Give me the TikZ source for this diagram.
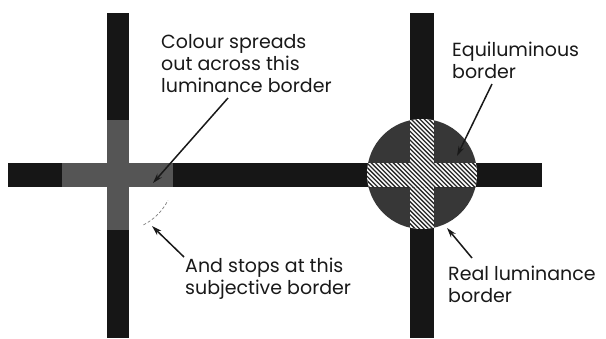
\documentclass[tikz,border=0pt]{standalone}
\usepackage{fontspec}
\setmainfont{Poppins}
\usetikzlibrary{arrows.meta}
\definecolor{barc}{RGB}{22,22,22}
\definecolor{spreadc}{RGB}{85,85,85}
\definecolor{circc}{RGB}{55,55,55}
\definecolor{hatchc}{RGB}{40,40,40}
\begin{document}
\begin{tikzpicture}[x=1pt,y=-1pt,
  lbl/.style={align=left, anchor=base west, inner sep=0pt, text=black!90,
    font=\fontsize{19}{22}\selectfont},
  arr/.style={-{Stealth[length=10pt,width=6pt]}, line width=1.5pt, black!90},
  hatch/.style={line width=1.3pt, hatchc}]
\useasboundingbox (0,0) rectangle (606,338);
\fill[white] (0,0) rectangle (606,338);
% bars
\fill[barc] (107,13) rectangle (129,338);
\fill[barc] (8,163) rectangle (542,187);
\fill[barc] (410,13) rectangle (434,338);
% colour spreading region
\fill[spreadc] (62,163) rectangle (173,187);
\fill[spreadc] (107,120) rectangle (129,230);
% subjective border
\draw[gray, line width=0.7pt, densely dashed] (118,175) ++(63:56) arc[start angle=63, end angle=27, radius=56];
% equiluminous disc
\fill[circc] (422,174) circle (55);
\begin{scope}
  \clip (422,174) circle (55);
  \begin{scope}
    \clip (410,110) rectangle (434,240);
    \fill[white] (410,110) rectangle (434,240);
    \foreach \k in {-45,...,45} \draw[hatch] (422+\k*4.4-80,94) -- ++(160,160);
  \end{scope}
  \begin{scope}
    \clip (360,163) rectangle (484,187);
    \fill[white] (360,163) rectangle (484,187);
    \foreach \k in {-45,...,45} \draw[hatch] (422+\k*4.4-80,94) -- ++(160,160);
  \end{scope}
\end{scope}
% labels (anchored at the baseline of their last line)
\node[lbl] (t1) at (161,92) {Colour spreads\\out across this\\luminance border};
\node[lbl] (t2) at (185,294) {And stops at this\\subjective border};
\node[lbl] (t3) at (452,78) {Equiluminous\\border};
\node[lbl] (t4) at (448,302) {Real luminance\\border};
% arrow end points
\coordinate (a1s) at (228,98);
\coordinate (a1e) at (153,183);
\coordinate (a2s) at (184,257);
\coordinate (a2e) at (152,226);
\coordinate (a3s) at (492,84);
\coordinate (a3e) at (457,156);
\coordinate (a4s) at (472,258);
\coordinate (a4e) at (447,228);
\draw[arr] (a1s) -- (a1e);
\draw[arr] (a2s) -- (a2e);
\draw[arr] (a3s) -- (a3e);
\draw[arr] (a4s) -- (a4e);
\end{tikzpicture}
\end{document}
